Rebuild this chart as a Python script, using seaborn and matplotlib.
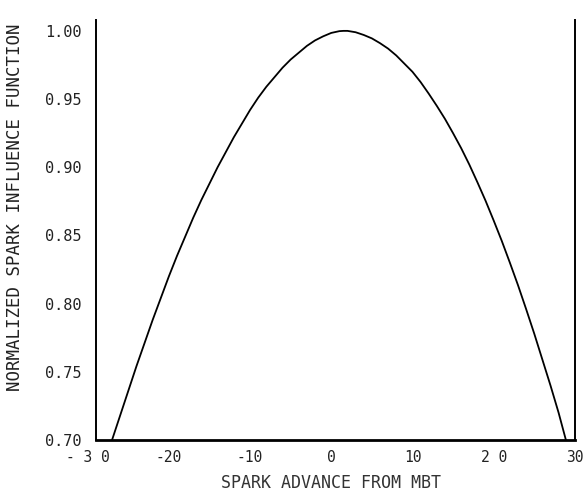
import matplotlib
matplotlib.use("Agg")
import matplotlib.pyplot as plt
import seaborn as sns
import pandas as pd

# Data (spark advance vs normalized influence)
spark_advance = [-27, -26, -25, -24, -23, -22, -21, -20, -19, -18, -17, -16, -15, -14,
                 -13, -12, -11, -10, -9, -8, -7, -6, -5, -4, -3, -2, -1, 0, 1, 1.5,
                 2, 3, 4, 5, 6, 7, 8, 9, 10, 11, 12, 13, 14, 15, 16, 17, 18, 19, 20,
                 21, 22, 23, 24, 25, 26, 27, 28, 28.9]
influence = [0.700, 0.718, 0.736, 0.754, 0.771, 0.788, 0.804, 0.820, 0.835, 0.849,
             0.863, 0.876, 0.888, 0.900, 0.911, 0.922, 0.932, 0.942, 0.951, 0.959,
             0.966, 0.973, 0.979, 0.984, 0.989, 0.993, 0.996, 0.9985, 0.9998, 1.000,
             1.000, 0.999, 0.997, 0.9945, 0.991, 0.987, 0.982, 0.976, 0.970, 0.9625,
             0.954, 0.945, 0.9355, 0.925, 0.914, 0.902, 0.889, 0.8755, 0.861, 0.846,
             0.830, 0.8135, 0.796, 0.778, 0.759, 0.740, 0.720, 0.700]

x_ticks = [-30, -20, -10, 0, 10, 20, 30]
x_tick_labels = ["- 3 0", "-20", "-10", "0", "10", "2 0", "30"]
y_ticks = [0.70, 0.75, 0.80, 0.85, 0.90, 0.95, 1.00]
y_tick_labels = ["0.70", "0.75", "0.80", "0.85", "0.90", "0.95", "1.00"]

df = pd.DataFrame({"advance": spark_advance, "influence": influence})

sns.set_theme(style="white")
plt.rcParams["font.family"] = ["DejaVu Sans Mono", "DejaVu Sans"]

fig = plt.figure(figsize=(5.83, 4.93), dpi=100)
ax = fig.add_axes([0.1504, 0.1075, 0.8356, 0.852])

sns.lineplot(data=df, x="advance", y="influence", ax=ax, color="black",
             linewidth=1.3, sort=False)

ax.set_xlim(-30, 30)
ax.set_ylim(0.70, 1.008)

ax.spines["top"].set_visible(False)
ax.spines["left"].set_position(("data", -29))
ax.spines["left"].set_bounds(0.70, 1.008)
ax.spines["bottom"].set_bounds(-29, 30)
for s in ["left", "bottom", "right"]:
    ax.spines[s].set_color("black")
ax.spines["left"].set_linewidth(1.4)
ax.spines["bottom"].set_linewidth(2.0)
ax.spines["right"].set_linewidth(1.4)

ax.set_xticks(x_ticks)
ax.set_xticklabels(x_tick_labels, fontsize=10.5, color="#222222")
ax.set_yticks(y_ticks)
ax.set_yticklabels(y_tick_labels, fontsize=11, color="#222222")

ax.tick_params(axis="x", direction="in", length=11, width=1.2, colors="black",
               labelcolor="#222222", pad=7)
ax.tick_params(axis="y", direction="inout", length=9, width=1.2, colors="black",
               labelcolor="#222222", pad=6)

ax.set_xlabel("SPARK ADVANCE FROM MBT", fontsize=12, color="#333333", labelpad=7)
ax.set_ylabel("NORMALIZED SPARK INFLUENCE FUNCTION", fontsize=12.5, color="#222222",
              labelpad=14)
ax.yaxis.set_label_coords(-0.13, 0.555)
ax.grid(False)

fig.savefig("out.png", dpi=100, facecolor="white")
